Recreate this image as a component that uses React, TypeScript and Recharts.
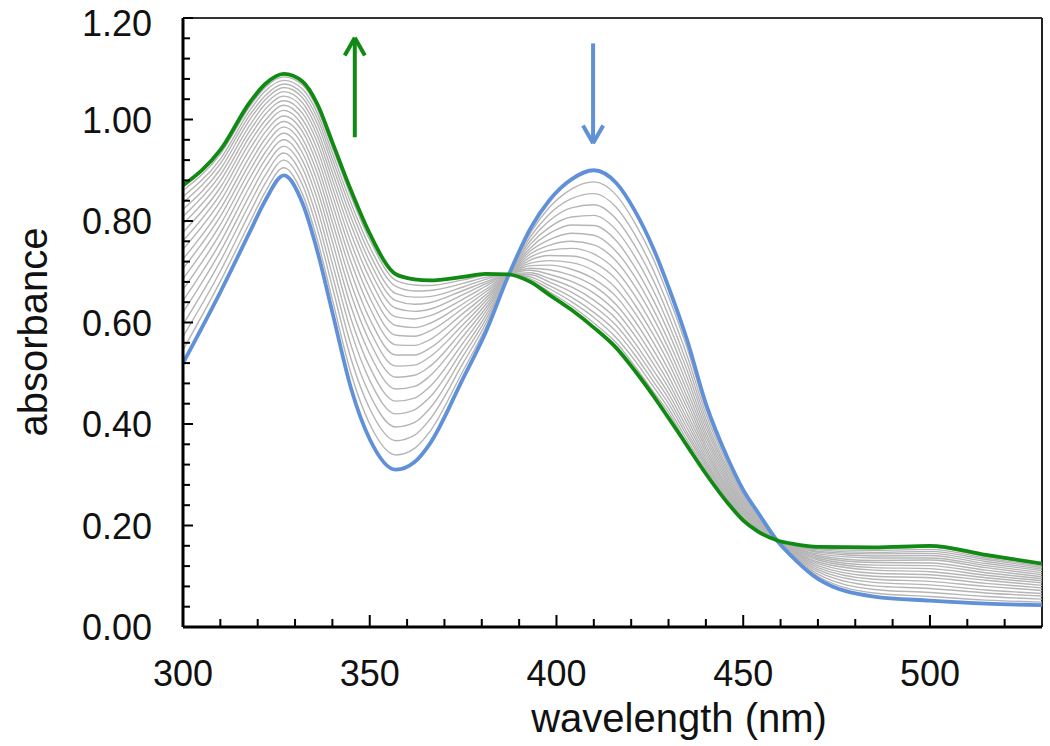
import { LineChart, Line, XAxis, YAxis, ReferenceLine } from 'recharts'

const wavelengths = [300, 310, 318, 322, 327, 332, 336, 340, 345, 350, 357, 362, 366, 375, 381, 387, 393, 398, 404, 410, 416, 421, 426, 430, 435, 440, 446, 450, 454, 459, 464, 470, 485, 500, 515, 530]

// first spectrum (blue) and last spectrum (green)
const blueTrace = [0.52, 0.66, 0.78, 0.84, 0.89, 0.835, 0.74, 0.62, 0.47, 0.37, 0.31, 0.325, 0.36, 0.49, 0.58, 0.69, 0.785, 0.84, 0.882, 0.9, 0.875, 0.82, 0.745, 0.67, 0.565, 0.44, 0.33, 0.27, 0.225, 0.171, 0.132, 0.095, 0.06, 0.052, 0.046, 0.043]
const greenTrace = [0.87, 0.94, 1.035, 1.07, 1.09, 1.075, 1.03, 0.955, 0.86, 0.775, 0.695, 0.685, 0.683, 0.69, 0.696, 0.695, 0.68, 0.655, 0.625, 0.59, 0.55, 0.505, 0.455, 0.412, 0.357, 0.302, 0.243, 0.21, 0.188, 0.171, 0.163, 0.158, 0.157, 0.16, 0.142, 0.125]

// intermediate spectra, one row per wavelength, blue side -> green side
const grayRows = [
  [0.546, 0.572, 0.596, 0.62, 0.643, 0.665, 0.686, 0.706, 0.725, 0.744, 0.761, 0.778, 0.794, 0.809, 0.823, 0.836, 0.848, 0.86],
  [0.681, 0.701, 0.721, 0.74, 0.758, 0.776, 0.793, 0.809, 0.824, 0.839, 0.853, 0.866, 0.879, 0.891, 0.902, 0.913, 0.922, 0.932],
  [0.799, 0.818, 0.836, 0.853, 0.87, 0.886, 0.901, 0.915, 0.929, 0.943, 0.956, 0.968, 0.979, 0.99, 1.001, 1.01, 1.019, 1.027],
  [0.857, 0.874, 0.89, 0.906, 0.921, 0.935, 0.949, 0.962, 0.975, 0.987, 0.998, 1.01, 1.02, 1.03, 1.039, 1.047, 1.056, 1.063],
  [0.905, 0.92, 0.934, 0.947, 0.96, 0.973, 0.985, 0.996, 1.007, 1.018, 1.028, 1.037, 1.046, 1.055, 1.063, 1.07, 1.077, 1.084],
  [0.853, 0.871, 0.887, 0.904, 0.919, 0.934, 0.949, 0.962, 0.976, 0.988, 1.0, 1.012, 1.023, 1.033, 1.043, 1.051, 1.06, 1.068],
  [0.762, 0.783, 0.803, 0.823, 0.842, 0.86, 0.877, 0.894, 0.91, 0.925, 0.94, 0.954, 0.967, 0.979, 0.991, 1.002, 1.012, 1.021],
  [0.645, 0.67, 0.693, 0.716, 0.738, 0.759, 0.779, 0.798, 0.816, 0.834, 0.851, 0.867, 0.882, 0.896, 0.91, 0.922, 0.934, 0.945],
  [0.499, 0.528, 0.555, 0.582, 0.607, 0.631, 0.655, 0.677, 0.699, 0.719, 0.739, 0.757, 0.775, 0.792, 0.807, 0.822, 0.835, 0.848],
  [0.4, 0.43, 0.458, 0.486, 0.512, 0.538, 0.562, 0.585, 0.607, 0.629, 0.649, 0.668, 0.687, 0.704, 0.72, 0.735, 0.749, 0.763],
  [0.339, 0.367, 0.394, 0.42, 0.445, 0.469, 0.492, 0.514, 0.536, 0.556, 0.575, 0.594, 0.611, 0.628, 0.643, 0.657, 0.671, 0.683],
  [0.352, 0.378, 0.403, 0.428, 0.451, 0.474, 0.496, 0.516, 0.536, 0.555, 0.573, 0.59, 0.607, 0.622, 0.636, 0.65, 0.662, 0.674],
  [0.384, 0.408, 0.43, 0.452, 0.473, 0.494, 0.513, 0.532, 0.549, 0.566, 0.583, 0.598, 0.613, 0.626, 0.639, 0.651, 0.663, 0.673],
  [0.505, 0.52, 0.534, 0.547, 0.56, 0.573, 0.585, 0.596, 0.607, 0.618, 0.628, 0.637, 0.646, 0.655, 0.663, 0.67, 0.677, 0.684],
  [0.589, 0.597, 0.605, 0.613, 0.621, 0.628, 0.635, 0.642, 0.648, 0.654, 0.66, 0.665, 0.671, 0.676, 0.68, 0.685, 0.689, 0.693],
  [0.69, 0.691, 0.691, 0.691, 0.692, 0.692, 0.692, 0.693, 0.693, 0.693, 0.693, 0.694, 0.694, 0.694, 0.694, 0.695, 0.695, 0.695],
  [0.776, 0.769, 0.761, 0.754, 0.747, 0.741, 0.735, 0.729, 0.723, 0.717, 0.712, 0.707, 0.703, 0.698, 0.694, 0.69, 0.686, 0.683],
  [0.826, 0.813, 0.8, 0.787, 0.775, 0.763, 0.752, 0.742, 0.732, 0.722, 0.713, 0.704, 0.695, 0.687, 0.68, 0.673, 0.667, 0.661],
  [0.863, 0.844, 0.826, 0.808, 0.792, 0.776, 0.76, 0.746, 0.731, 0.718, 0.705, 0.693, 0.681, 0.67, 0.66, 0.65, 0.641, 0.633],
  [0.877, 0.854, 0.832, 0.811, 0.791, 0.772, 0.753, 0.735, 0.718, 0.702, 0.686, 0.672, 0.658, 0.644, 0.632, 0.62, 0.61, 0.599],
  [0.851, 0.827, 0.804, 0.782, 0.761, 0.74, 0.721, 0.702, 0.685, 0.667, 0.651, 0.635, 0.621, 0.607, 0.594, 0.582, 0.57, 0.56],
  [0.796, 0.773, 0.751, 0.73, 0.709, 0.69, 0.671, 0.653, 0.635, 0.619, 0.603, 0.588, 0.574, 0.56, 0.548, 0.536, 0.525, 0.514],
  [0.724, 0.702, 0.682, 0.662, 0.643, 0.625, 0.608, 0.591, 0.575, 0.56, 0.545, 0.531, 0.518, 0.505, 0.494, 0.483, 0.473, 0.463],
  [0.651, 0.632, 0.614, 0.597, 0.581, 0.564, 0.549, 0.535, 0.521, 0.507, 0.494, 0.482, 0.471, 0.46, 0.45, 0.44, 0.431, 0.423],
  [0.549, 0.534, 0.519, 0.505, 0.491, 0.478, 0.465, 0.453, 0.442, 0.431, 0.42, 0.41, 0.401, 0.392, 0.383, 0.376, 0.368, 0.361],
  [0.43, 0.42, 0.41, 0.401, 0.392, 0.383, 0.375, 0.367, 0.359, 0.352, 0.345, 0.338, 0.332, 0.326, 0.321, 0.316, 0.311, 0.306],
  [0.323, 0.317, 0.31, 0.304, 0.298, 0.293, 0.287, 0.282, 0.277, 0.272, 0.268, 0.264, 0.26, 0.256, 0.252, 0.249, 0.246, 0.243],
  [0.265, 0.26, 0.256, 0.251, 0.247, 0.243, 0.239, 0.235, 0.232, 0.228, 0.225, 0.222, 0.219, 0.216, 0.214, 0.211, 0.209, 0.207],
  [0.222, 0.219, 0.216, 0.214, 0.211, 0.208, 0.206, 0.204, 0.202, 0.199, 0.197, 0.196, 0.194, 0.192, 0.19, 0.189, 0.188, 0.186],
  [0.171, 0.171, 0.171, 0.171, 0.171, 0.171, 0.171, 0.171, 0.171, 0.171, 0.171, 0.171, 0.171, 0.171, 0.171, 0.171, 0.171, 0.171],
  [0.134, 0.137, 0.139, 0.141, 0.143, 0.145, 0.147, 0.148, 0.15, 0.152, 0.153, 0.155, 0.156, 0.158, 0.159, 0.16, 0.161, 0.162],
  [0.1, 0.104, 0.109, 0.113, 0.117, 0.121, 0.125, 0.128, 0.132, 0.135, 0.138, 0.141, 0.144, 0.147, 0.149, 0.152, 0.154, 0.156],
  [0.067, 0.074, 0.081, 0.088, 0.094, 0.1, 0.106, 0.112, 0.117, 0.122, 0.127, 0.131, 0.136, 0.14, 0.144, 0.147, 0.151, 0.154],
  [0.06, 0.068, 0.076, 0.083, 0.09, 0.097, 0.103, 0.109, 0.115, 0.121, 0.126, 0.132, 0.136, 0.141, 0.145, 0.149, 0.153, 0.157],
  [0.053, 0.06, 0.067, 0.073, 0.08, 0.086, 0.092, 0.097, 0.102, 0.107, 0.112, 0.117, 0.121, 0.125, 0.129, 0.133, 0.136, 0.139],
  [0.049, 0.055, 0.061, 0.066, 0.072, 0.077, 0.082, 0.087, 0.091, 0.095, 0.099, 0.103, 0.107, 0.111, 0.114, 0.117, 0.12, 0.123],
]

const xTicks = [300, 310, 320, 330, 340, 350, 360, 370, 380, 390, 400, 410, 420, 430, 440, 450, 460, 470, 480, 490, 500, 510, 520]
const yTicks = [0, 0.04, 0.08, 0.12, 0.16, 0.2, 0.24, 0.28, 0.32, 0.36, 0.4, 0.44, 0.48, 0.52, 0.56, 0.6, 0.64, 0.68, 0.72, 0.76, 0.8, 0.84, 0.88, 0.92, 0.96, 1.0, 1.04, 1.08, 1.12, 1.16, 1.2]

// arrows: shaft x, start, tip, head half-width (nm) and head drop
const upArrow = { x: 346, from: 0.965, tip: 1.161, half: 2.7, head: 0.035 }
const downArrow = { x: 409.8, from: 1.15, tip: 0.953, half: 2.7, head: 0.035 }

const GREEN = '#118a14'
const BLUE = '#6090d8'
const GRAY = '#b5b5b5'
const FONT = '"Liberation Sans", Arial, sans-serif'

const data = wavelengths.map((wl, i) => {
  const row: Record<string, number> = { wl, blue: blueTrace[i], green: greenTrace[i] }
  grayRows[i].forEach((v, k) => { row['g' + k] = v })
  return row
})
const grayKeys = grayRows[0].map((_, k) => 'g' + k)

const XTick = ({ x, y, payload }: any) => {
  const v = payload.value
  const major = v % 50 === 0
  return (
    <g>
      <line x1={x} x2={x} y1={y} y2={y - (major ? 12 : 8)} stroke="#000" strokeWidth={2} />
      {major && (
        <text x={x} y={y + 59} textAnchor="middle" fontSize={36} fontFamily={FONT} fill="#111">{v}</text>
      )}
    </g>
  )
}

const YTick = ({ x, y, payload }: any) => {
  const v = payload.value
  const major = Math.abs(v * 5 - Math.round(v * 5)) < 1e-6
  return (
    <g>
      <line x1={x} x2={x + (major ? 10 : 7)} y1={y} y2={y} stroke="#000" strokeWidth={2} />
      {major && (
        <text x={x - 31} y={Math.max(y + 13, 36)} textAnchor="end" fontSize={36} fontFamily={FONT} fill="#111">{v.toFixed(2)}</text>
      )}
    </g>
  )
}

const arrowLines = (a: typeof upArrow, color: string, dir: number) => [
  <ReferenceLine key="s" segment={[{ x: a.x, y: a.from }, { x: a.x, y: a.tip }]} stroke={color} strokeWidth={4} />,
  <ReferenceLine key="l" segment={[{ x: a.x - a.half, y: a.tip - dir * a.head }, { x: a.x, y: a.tip }]} stroke={color} strokeWidth={4} />,
  <ReferenceLine key="r" segment={[{ x: a.x + a.half, y: a.tip - dir * a.head }, { x: a.x, y: a.tip }]} stroke={color} strokeWidth={4} />,
]

export default function App() {
  return (
    <div style={{ position: 'absolute', left: 0, top: 0, width: 1050, height: 746, background: '#fff' }}>
      <LineChart width={1050} height={746} data={data} margin={{ top: 18, right: 8, bottom: 59, left: 83 }}>
        <XAxis
          dataKey="wl"
          type="number"
          domain={[300, 530]}
          ticks={xTicks}
          interval={0}
          allowDataOverflow
          height={60}
          tickSize={0}
          tickMargin={0}
          tickLine={false}
          tick={<XTick />}
          axisLine={{ stroke: '#000', strokeWidth: 3 }}
        />
        <YAxis
          type="number"
          domain={[0, 1.2]}
          ticks={yTicks}
          interval={0}
          allowDataOverflow
          width={100}
          tickSize={0}
          tickMargin={0}
          tickLine={false}
          tick={<YTick />}
          axisLine={{ stroke: '#000', strokeWidth: 3 }}
        />
        <ReferenceLine y={1.2} stroke="#333" strokeWidth={2} />
        <ReferenceLine x={530} stroke="#222" strokeWidth={2} />
        {grayKeys.map(k => (
          <Line key={k} dataKey={k} type="monotone" stroke={GRAY} strokeWidth={1.4} dot={false} isAnimationActive={false} />
        ))}
        <Line dataKey="blue" type="monotone" stroke={BLUE} strokeWidth={3.8} dot={false} isAnimationActive={false} />
        <Line dataKey="green" type="monotone" stroke={GREEN} strokeWidth={3.8} dot={false} isAnimationActive={false} />
        {arrowLines(upArrow, GREEN, 1)}
        {arrowLines(downArrow, BLUE, -1)}
      </LineChart>
      <svg width={1050} height={746} style={{ position: 'absolute', left: 0, top: 0, pointerEvents: 'none' }}>
        <text x={679} y={732} textAnchor="middle" fontSize={40} fontFamily={FONT} fill="#111">wavelength (nm)</text>
        <text transform="translate(47,332) rotate(-90)" textAnchor="middle" fontSize={40} fontFamily={FONT} fill="#111">absorbance</text>
      </svg>
    </div>
  )
}
